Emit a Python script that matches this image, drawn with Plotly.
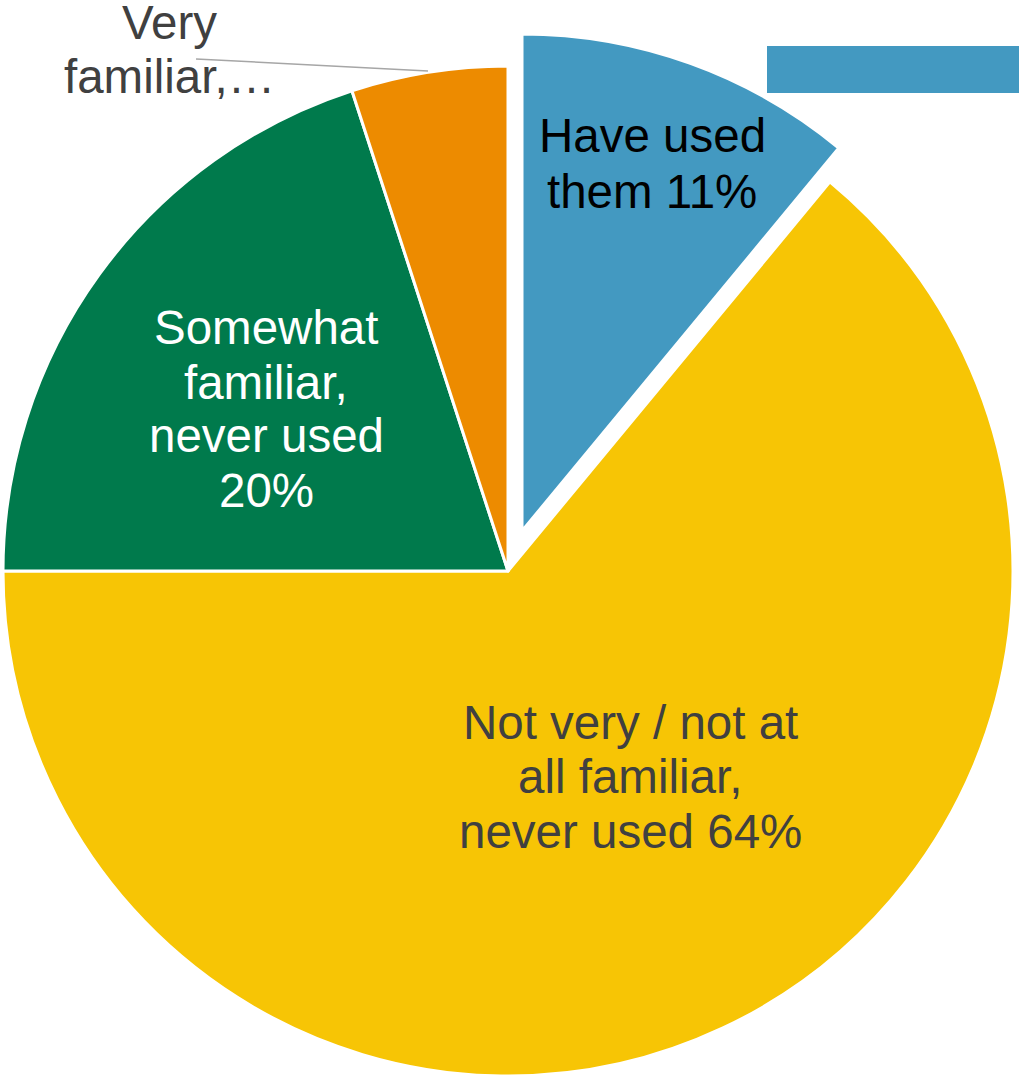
import plotly.graph_objects as go

# ---- data ----
categories = ["Have used them", "Not very / not at all familiar, never used",
              "Somewhat familiar, never used", "Very familiar, never used"]
values = [11, 64, 20, 5]
colors = ["#4399C1", "#F7C505", "#007A4C", "#ED8B00"]

W, H = 1019, 1078
FONT = "Liberation Sans, Arial, sans-serif"

def px(x):
    return x / W

def py(y):
    return 1 - y / H

fig = go.Figure()

# main pie (blue slice left empty; it is drawn pulled out by the second trace)
fig.add_trace(go.Pie(
    labels=categories, values=values, sort=False, direction="clockwise",
    marker=dict(colors=["rgba(0,0,0,0)"] + colors[1:],
                line=dict(color="white", width=[0, 3, 3, 3])),
    textinfo="none", hoverinfo="label+percent", showlegend=False,
    domain=dict(x=[px(3), px(1013)], y=[py(1076), py(66)]),
))

# exploded "Have used them" slice
fig.add_trace(go.Pie(
    labels=[categories[0], "rest"], values=[values[0], sum(values[1:])],
    sort=False, direction="clockwise",
    marker=dict(colors=[colors[0], "rgba(0,0,0,0)"],
                line=dict(color="white", width=[3, 0])),
    textinfo="none", hoverinfo="skip", showlegend=False,
    domain=dict(x=[px(25), 1.0], y=[py(1028), py(34)]),
))

# labels (one annotation per line)
label_lines = [
    (["Have used", "them 11%"], 652, [152, 207], "#000000"),
    (["Somewhat", "familiar,", "never used", "20%"], 266, [343, 398, 452, 506], "#FFFFFF"),
    (["Not very / not at", "all familiar,", "never used 64%"], 630, [738, 792, 847], "#404040"),
    (["Very", "familiar,\u2026"], 169, [39, 93], "#404040"),
]
annotations = []
for lines, cx, baselines, col in label_lines:
    for t, b in zip(lines, baselines):
        annotations.append(dict(
            text=t, x=px(cx), y=py(b - 16), xref="paper", yref="paper",
            xanchor="center", yanchor="middle", showarrow=False,
            font=dict(family=FONT, size=47.5, color=col)))

shapes = [
    dict(type="line", xref="paper", yref="paper",
         x0=px(196), y0=py(59), x1=px(428), y1=py(71),
         line=dict(color="#A6A6A6", width=1.5)),
    dict(type="rect", xref="paper", yref="paper",
         x0=px(767), y0=py(93), x1=1.0, y1=py(46),
         fillcolor=colors[0], line=dict(width=0)),
]

fig.update_layout(
    width=W, height=H, margin=dict(l=0, r=0, t=0, b=0),
    paper_bgcolor="white", plot_bgcolor="white",
    annotations=annotations, shapes=shapes,
    font=dict(family=FONT),
)

fig.write_html("out.html")
